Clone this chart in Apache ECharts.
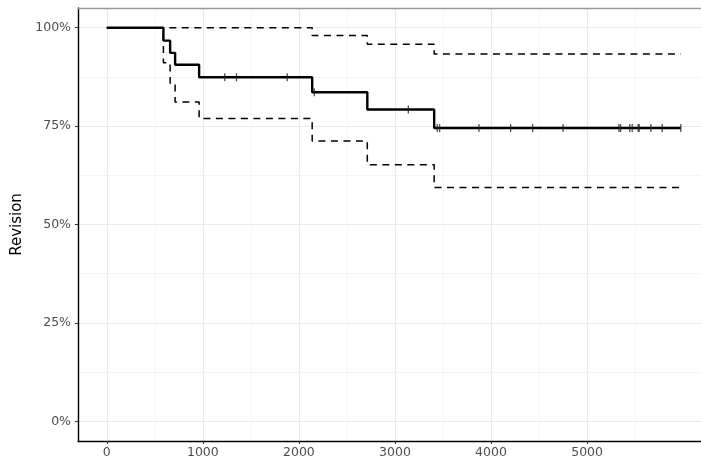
<!DOCTYPE html>
<html>
<head>
<meta charset="utf-8">
<script src="https://cdn.jsdelivr.net/npm/echarts@6/dist/echarts.min.js"></script>
<style>
  html, body { margin: 0; padding: 0; background: #fff; }
  #chart { width: 701px; height: 466px; }
</style>
</head>
<body>
<div id="chart"></div>
<script>
// Kaplan-Meier estimate of revision-free survival with 95% confidence band
const times    = [0, 589, 659, 711, 961, 2138, 2712, 3408, 5976];
const survival = [1, 0.967, 0.936, 0.906, 0.874, 0.836, 0.792, 0.745, 0.745];
const upperCI  = [1, 1, 1, 1, 1, 0.980, 0.958, 0.933, 0.933];
const lowerCI  = [1, 0.911, 0.859, 0.811, 0.769, 0.712, 0.652, 0.594, 0.594];

// censored follow-up times (drawn as tick marks on the curve)
const censored = [1228, 1350, 1878, 2160, 3139, 3440, 3465, 3874, 4204, 4433,
                  4750, 5331, 5349, 5445, 5470, 5532, 5542, 5664, 5782, 5976];

const xTicks = [0, 1000, 2000, 3000, 4000, 5000];
const xMinor = [500, 1500, 2500, 3500, 4500, 5500];
const yTicks = [0, 0.25, 0.5, 0.75, 1];
const yMinor = [0.125, 0.375, 0.625, 0.875];

const FONT = 'DejaVu Sans';

function stepAt(t) {
  let v = survival[0];
  for (let i = 0; i < times.length; i++) {
    if (times[i] <= t) v = survival[i];
  }
  return v;
}

const zip = (xs, ys) => xs.map((x, i) => [x, ys[i]]);

const chart = echarts.init(document.getElementById('chart'), null, { renderer: 'canvas' });

const xMin = -300, xMax = 6186;
const yMin = -0.05, yMax = 1.05;

const dashed = { color: '#000', width: 1.5, type: [7, 5.5], cap: 'butt' };

const option = {
  animation: false,
  backgroundColor: '#fff',
  grid: { left: 78, top: 8, right: 0, bottom: 25, containLabel: false },
  xAxis: [
    {
      type: 'value', min: xMin, max: xMax,
      axisLine: { show: true, onZero: false, lineStyle: { color: '#000', width: 1.4 } },
      axisTick: { show: true, customValues: xTicks, length: 3, lineStyle: { color: '#333', width: 1 } },
      axisLabel: {
        customValues: xTicks, color: '#4d4d4d', fontSize: 12.5, margin: 5, fontFamily: FONT,
        formatter: v => String(v)
      },
      splitLine: { show: true, lineStyle: { color: '#e9e9e9', width: 1.1 } }
    },
    {
      type: 'value', min: xMin, max: xMax, position: 'top',
      axisLine: { show: true, onZero: false, lineStyle: { color: '#9a9a9a', width: 1.3 } },
      axisTick: { show: false, customValues: xMinor },
      axisLabel: { show: false, customValues: xMinor },
      splitLine: { show: true, lineStyle: { color: '#f1f1f1', width: 0.7 } }
    }
  ],
  yAxis: [
    {
      type: 'value', min: yMin, max: yMax,
      name: 'Revision', nameLocation: 'middle', nameGap: 52,
      nameTextStyle: { color: '#000', fontSize: 15, fontFamily: FONT },
      axisLine: { show: true, onZero: false, lineStyle: { color: '#000', width: 1.4 } },
      axisTick: { show: true, customValues: yTicks, length: 3, lineStyle: { color: '#333', width: 1 } },
      axisLabel: {
        customValues: yTicks, color: '#4d4d4d', fontSize: 12.5, margin: 7, fontFamily: FONT,
        formatter: v => Math.round(v * 100) + '%'
      },
      splitLine: { show: true, lineStyle: { color: '#e9e9e9', width: 1.1 } }
    },
    {
      type: 'value', min: yMin, max: yMax, position: 'right',
      axisLine: { show: false },
      axisTick: { show: false, customValues: yMinor },
      axisLabel: { show: false, customValues: yMinor },
      splitLine: { show: true, lineStyle: { color: '#f1f1f1', width: 0.7 } }
    }
  ],
  series: [
    {
      name: 'lower', type: 'line', step: 'end', symbol: 'none',
      data: zip(times, lowerCI), lineStyle: dashed, z: 2
    },
    {
      name: 'upper', type: 'line', step: 'end', symbol: 'none',
      data: zip(times, upperCI), lineStyle: dashed, z: 2
    },
    {
      name: 'survival', type: 'line', step: 'end', symbol: 'none',
      data: zip(times, survival),
      lineStyle: { color: '#000', width: 2.4 },
      z: 3
    },
    {
      name: 'censored', type: 'scatter', symbol: 'rect', symbolSize: [1.3, 8],
      data: censored.map(t => [t, stepAt(t)]),
      itemStyle: { color: '#222' },
      z: 4
    }
  ]
};

chart.setOption(option);
</script>
</body>
</html>
